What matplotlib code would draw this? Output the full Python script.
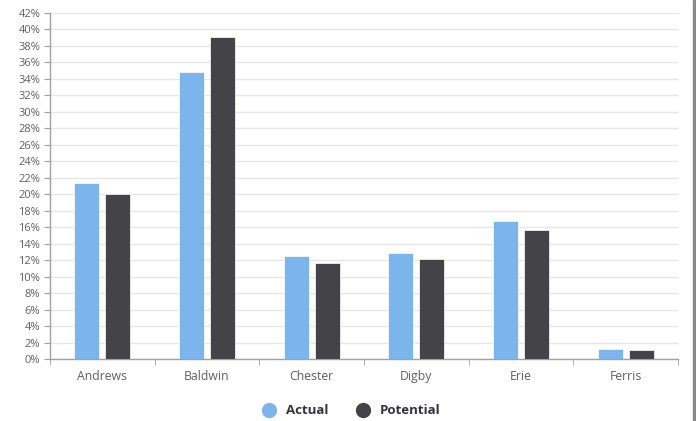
import numpy as np
import matplotlib
matplotlib.use("Agg")
import matplotlib.pyplot as plt
from matplotlib.patches import Rectangle
from matplotlib.ticker import FixedLocator, PercentFormatter

plt.rcParams["font.family"] = ["Open Sans", "DejaVu Sans"]

companies = ["Andrews", "Baldwin", "Chester", "Digby", "Erie", "Ferris"]
actual = [21.4, 34.8, 12.5, 12.9, 16.7, 1.2]
potential = [20.0, 39.1, 11.7, 12.1, 15.7, 1.1]

c_actual = "#7cb5ec"
c_potential = "#434348"

fig = plt.figure(figsize=(6.96, 4.21), dpi=100)
ax = fig.add_axes([50 / 696, 62 / 421, 628 / 696, 346 / 421])

x = np.arange(len(companies))
w = 0.24
ax.bar(x - 0.148, actual, w, color=c_actual, edgecolor="white", linewidth=0.5, zorder=3)
ax.bar(x + 0.148, potential, w, color=c_potential, edgecolor="white", linewidth=0.5, zorder=3)

ax.set_xlim(-0.5, len(companies) - 0.5)
ax.set_ylim(0, 42)
ax.set_yticks(np.arange(0, 43, 2))
ax.yaxis.set_major_formatter(PercentFormatter(decimals=0))
ax.set_xticks(x)
ax.set_xticklabels(companies)
ax.xaxis.set_minor_locator(FixedLocator(np.arange(-0.5, len(companies), 1.0)))

ax.grid(axis="y", color="#e6e6e6", linewidth=1, zorder=0)
for s in ["top", "right"]:
    ax.spines[s].set_visible(False)
for s in ["left", "bottom"]:
    ax.spines[s].set_color("#a0a0a0")
    ax.spines[s].set_linewidth(1)

ax.tick_params(axis="y", length=4, color="#a0a0a0", labelsize=8, labelcolor="#606060", pad=3)
ax.tick_params(axis="x", which="major", length=0, labelsize=8.8, labelcolor="#606060", pad=8)
ax.tick_params(axis="x", which="minor", length=4, color="#a0a0a0")

# legend below the chart
h1 = plt.Line2D([], [], marker="o", linestyle="none", markersize=10, color=c_actual)
h2 = plt.Line2D([], [], marker="o", linestyle="none", markersize=10, color=c_potential)
fig.legend([h1, h2], ["Actual", "Potential"], loc="center", bbox_to_anchor=(348 / 696, 1 - 411 / 421),
           ncol=2, frameon=False, handletextpad=0.3, columnspacing=1.6,
           prop={"weight": "bold", "size": 9.5})
for t in fig.legends[0].get_texts():
    t.set_color("#333344")

# gray edge strip on the right
fig.patches.append(Rectangle((692.5 / 696, 0), 3.5 / 696, 1, transform=fig.transFigure,
                             color="#8a8a8a", zorder=0))

fig.savefig("out.png", dpi=100)
